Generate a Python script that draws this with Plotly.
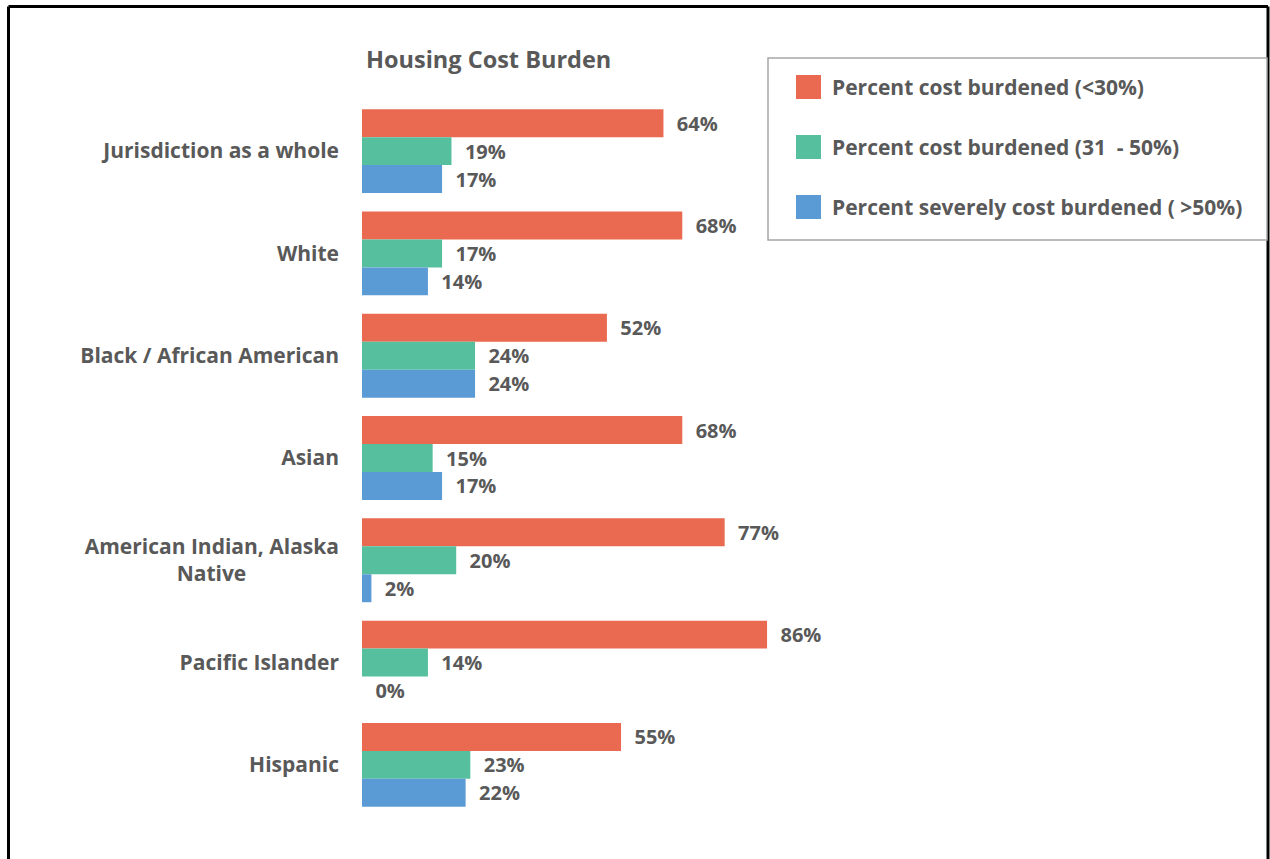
import plotly.graph_objects as go

categories = [
    "Jurisdiction as a whole",
    "White",
    "Black / African American",
    "Asian",
    "American Indian, Alaska<br>Native" + "\u00a0" * 17,
    "Pacific Islander",
    "Hispanic",
]
series_names = [
    "Percent cost burdened (<30%)",
    "Percent cost burdened (31  - 50%)",
    "Percent severely cost burdened ( >50%)",
]
cost_30 = [64, 68, 52, 68, 77, 86, 55]
cost_31_50 = [19, 17, 24, 15, 20, 14, 23]
severe_50 = [17, 14, 24, 17, 2, 0, 22]
series_values = [cost_30, cost_31_50, severe_50]
colors = ["#E96A50", "#56BF9E", "#5B9BD5"]

TEXT = "#595959"
FONT = "Open Sans"

# pixel layout helpers (plot area 362..833 x 100..816)
L, R, T, B = 362, 833, 100, 816
def px(x):
    return (x - L) / (R - L)
def py(y):
    return (B - y) / (B - T)

fig = go.Figure()

for name, vals, col in zip(series_names, series_values, colors):
    fig.add_trace(go.Bar(
        y = categories,
        x = vals,
        name = name,
        orientation = "h",
        marker = dict(color = col, line = dict(width = 0)),
        text = ["\u00a0\u00a0" + str(v) + "%" for v in vals],
        textposition = "outside",
        cliponaxis = False,
        textfont = dict(family = FONT, size = 20, color = TEXT, weight = "bold"),
        showlegend = False,
    ))

fig.update_layout(
    width = 1270,
    height = 859,
    barmode = "group",
    bargap = 0.18,
    bargroupgap = 0,
    plot_bgcolor = "white",
    paper_bgcolor = "white",
    margin = dict(l = L, r = 1270 - R, t = T, b = 859 - B),
    font = dict(family = FONT, color = TEXT),
    title = dict(
        text = "<b>Housing Cost Burden</b>",
        font = dict(family = FONT, size = 23.5, color = TEXT),
        xref = "container", yref = "container",
        x = 366 / 1270, xanchor = "left",
        y = 1 - 60 / 859, yanchor = "middle",
    ),
)

fig.update_xaxes(range = [0, 100], visible = False)
fig.update_yaxes(
    autorange = "reversed",
    showgrid = False,
    showline = False,
    ticks = "",
    ticklabelstandoff = 22,
    tickfont = dict(family = FONT, size = 21, color = TEXT, weight = "bold"),
)

# frame around the chart
shapes = [
    dict(type = "line", xref = "paper", yref = "paper",
         x0 = px(8.5), x1 = px(8.5), y0 = py(6.5), y1 = py(870),
         line = dict(color = "black", width = 3)),
    dict(type = "line", xref = "paper", yref = "paper",
         x0 = px(8.5), x1 = px(1268), y0 = py(6.5), y1 = py(6.5),
         line = dict(color = "black", width = 3)),
    dict(type = "line", xref = "paper", yref = "paper",
         x0 = px(1268), x1 = px(1268), y0 = py(6.5), y1 = py(870),
         line = dict(color = "black", width = 3)),
    # legend box
    dict(type = "rect", xref = "paper", yref = "paper",
         x0 = px(768), x1 = px(1267), y0 = py(58), y1 = py(240),
         line = dict(color = "#A6A6A6", width = 1.5), fillcolor = "white"),
]

annotations = []
for i, (name, col) in enumerate(zip(series_names, colors)):
    cy = 87 + 60 * i
    shapes.append(dict(
        type = "rect", xref = "paper", yref = "paper",
        x0 = px(796), x1 = px(821), y0 = py(cy - 12), y1 = py(cy + 12),
        line = dict(width = 0), fillcolor = col))
    annotations.append(dict(
        xref = "paper", yref = "paper",
        x = px(830), y = py(cy), xanchor = "left", yanchor = "middle",
        text = "<b>" + name.replace("<", "&lt;").replace(">", "&gt;") + "</b>",
        showarrow = False,
        font = dict(family = FONT, size = 21, color = TEXT)))

fig.update_layout(shapes = shapes, annotations = annotations)

# drop the page's default body margin so the figure sits at (0, 0)
fig.write_html(
    "out.html",
    config = {"displayModeBar": False},
    post_script = "document.body.style.margin = '0';",
)
